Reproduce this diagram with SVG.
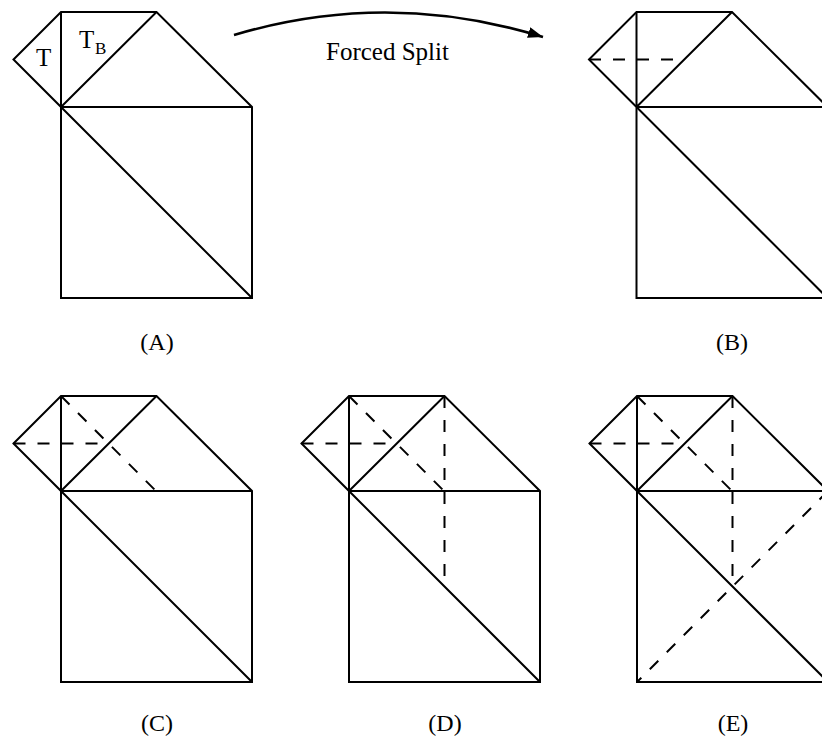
<svg xmlns="http://www.w3.org/2000/svg" xmlns:xlink="http://www.w3.org/1999/xlink" width="822" height="740" viewBox="0 0 822 740">
<style>
.ln{fill:none;stroke:#000;stroke-width:2;stroke-linejoin:miter}
.ds{fill:none;stroke:#000;stroke-width:2;stroke-dasharray:12 12}
.tx{font-family:"Liberation Serif","Times New Roman",serif;fill:#000}
.lbl{font-size:24px;text-anchor:middle}
</style>
<defs>
<g id="base">
<path class="ln" d="M13.5,59.5 L61,12 L156.5,12 L252,107 L252,298 L61,298 L61,107 Z"/>
<path class="ln" d="M61,12 L61,107 M61,107 L156.5,12 M61,107 L252,107 M61,107 L252,298"/>
</g>
<marker id="ah" markerUnits="userSpaceOnUse" markerWidth="16" markerHeight="12" refX="15" refY="5.5" orient="auto">
<path d="M0,0 L15,5.5 L0,11 Z" fill="#000"/>
</marker>
</defs>
<g id="panelA">
<use xlink:href="#base"/>
<text class="tx" x="36" y="66" font-size="25">T</text>
<text class="tx" x="79" y="48" font-size="25">T<tspan x="95" y="53.5" font-size="17">B</tspan></text>
<text class="tx lbl" x="157" y="350">(A)</text>
</g>
<g id="panelB">
<g transform="translate(575.5,0)">
<use xlink:href="#base"/>
<path class="ds" d="M13.5,59.5 L109,59.5"/>
</g>
<text class="tx lbl" x="732" y="350">(B)</text>
</g>
<g id="panelC">
<g transform="translate(0,384)">
<use xlink:href="#base"/>
<path class="ds" d="M13.5,59.5 L109,59.5"/>
<path class="ds" d="M61,12 L156.5,107.5"/>
</g>
<text class="tx lbl" x="157" y="731">(C)</text>
</g>
<g id="panelD">
<g transform="translate(288,384)">
<use xlink:href="#base"/>
<path class="ds" d="M13.5,59.5 L109,59.5"/>
<path class="ds" d="M61,12 L156.5,107.5"/>
<path class="ds" d="M156.5,12 L156.5,203"/>
</g>
<text class="tx lbl" x="445" y="731">(D)</text>
</g>
<g id="panelE">
<g transform="translate(576,384)">
<use xlink:href="#base"/>
<path class="ds" d="M13.5,59.5 L109,59.5"/>
<path class="ds" d="M61,12 L156.5,107.5"/>
<path class="ds" d="M156.5,12 L156.5,203"/>
<path class="ds" d="M252,107 L61,298"/>
</g>
<text class="tx lbl" x="733" y="731">(E)</text>
</g>
<g id="connectors">
<path d="M234,35 Q388,-11 543,37" fill="none" stroke="#000" stroke-width="2.5" marker-end="url(#ah)"/>
<text class="tx" x="387.5" y="60" font-size="25" text-anchor="middle">Forced Split</text>
</g>
</svg>
